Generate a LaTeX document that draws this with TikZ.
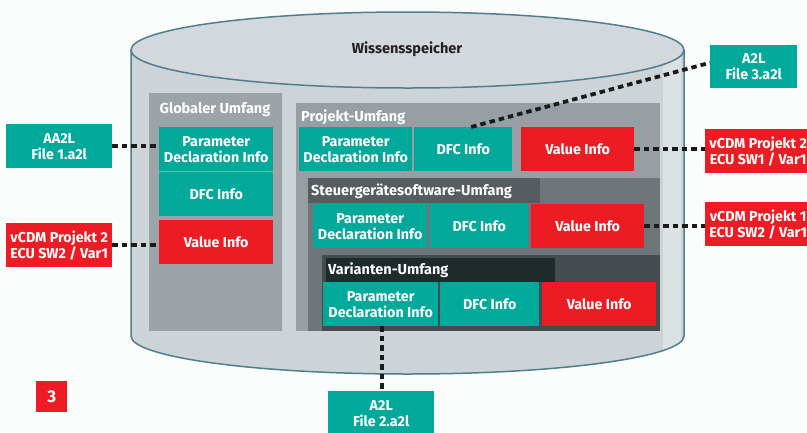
\documentclass[tikz,border=0pt]{standalone}
\usepackage{fontspec}
\setmainfont{Fira Sans}
\definecolor{cTeal}{HTML}{00A99A}
\definecolor{cRed}{HTML}{ED1C24}
\definecolor{cBg}{HTML}{FBFCFC}
\definecolor{cCyl}{HTML}{CDD4D8}
\definecolor{cCylTop}{HTML}{D2D8DB}
\definecolor{cCylLight}{HTML}{DCE1E3}
\definecolor{cCylLine}{HTML}{4F7E90}
\definecolor{cGlob}{HTML}{9DA4A9}
\definecolor{cProj}{HTML}{989FA4}
\definecolor{cSteu}{HTML}{6E767A}
\definecolor{cSteuT}{HTML}{555D61}
\definecolor{cVar}{HTML}{454C50}
\definecolor{cVarT}{HTML}{1F2A2B}
\definecolor{cDark}{HTML}{231F20}
\definecolor{cDot}{HTML}{1A1A1A}
\tikzset{
  box/.style={draw=none, text=white, font=\bfseries\fontsize{14.3}{16}\selectfont,
    align=center, inner sep=0pt, anchor=north west, minimum height=44pt},
  tbox/.style={box, fill=cTeal},
  rbox/.style={box, fill=cRed},
  paneltitle/.style={text=white, font=\bfseries\fontsize{14.5}{16}\selectfont, inner sep=0pt},
  conn/.style={draw=cDot, line width=3.8pt, dash pattern=on 5.5pt off 4pt},
}
\begin{document}
\begin{tikzpicture}[x=1pt, y=-1pt]
\clip (0,0) rectangle (807,432);
\fill[cBg] (0,0) rectangle (807,432);
% cylinder body
\begin{scope}
\clip (131,50) -- (131,336) arc[start angle=180, end angle=0, x radius=276.5, y radius=38] -- (684,50) -- cycle;
\fill[cCyl] (131,50) rectangle (684,380);
\fill[cCylLight] (663,50) rectangle (681,380);
\end{scope}
\draw[cCylLine, line width=1.5pt] (131,50) -- (131,336) arc[start angle=180, end angle=0, x radius=276.5, y radius=38] -- (684,50);
\draw[cCylLine, line width=1.5pt, fill=cCylTop] (407.5,50) ellipse[x radius=276.5, y radius=38];
\node[text=cDark, font=\bfseries\fontsize{14.5}{16}\selectfont, inner sep=0pt] (tw) at (407,49) {Wissensspeicher};
% panels
\fill[cGlob] (149,93) rectangle (282,331);
\fill[cProj] (296,103) rectangle (660,331);
\fill[cSteu] (308,178) rectangle (660,331);
\fill[cSteuT] (308,178) rectangle (540,203);
\fill[cVar] (322,255) rectangle (660,331);
\fill[cVarT] (326,258) rectangle (555,282);
\node[paneltitle] (tglob) at (215,110) {Globaler Umfang};
\node[paneltitle, anchor=west] (tproj) at (301,117) {Projekt-Umfang};
\node[paneltitle, anchor=west] (tsteu) at (311,191) {Steuergerätesoftware-Umfang};
\node[paneltitle, anchor=west] (tvar) at (328,270) {Varianten-Umfang};
% global
\node[tbox, minimum width=114pt] (gpdi) at (159,127) {Parameter\\Declaration Info};
\node[tbox, minimum width=114pt] (gdfc) at (159,172) {DFC Info};
\node[rbox, minimum width=114pt] (gval) at (159,220) {Value Info};
% projekt
\node[tbox, minimum width=113pt] (ppdi) at (299,127) {Parameter\\Declaration Info};
\node[tbox, minimum width=98pt] (pdfc) at (414,127) {DFC Info};
\node[rbox, minimum width=113pt] (pval) at (521,127) {Value Info};
% steuergeraet
\node[tbox, minimum width=114pt] (spdi) at (313,204) {Parameter\\Declaration Info};
\node[tbox, minimum width=98pt] (sdfc) at (430,204) {DFC Info};
\node[rbox, minimum width=113pt] (sval) at (531,204) {Value Info};
% varianten
\node[tbox, minimum width=115pt] (vpdi) at (323,282) {Parameter\\Declaration Info};
\node[tbox, minimum width=99pt] (vdfc) at (440,282) {DFC Info};
\node[rbox, minimum width=114pt] (vval) at (542,282) {Value Info};
% external
\node[tbox, minimum width=106pt] (aa2l) at (6,124) {AA2L\\File 1.a2l};
\node[rbox, minimum width=106pt] (vleft) at (6,223) {vCDM Projekt 2\\ECU SW2 / Var1};
\node[tbox, minimum width=87pt, minimum height=43pt] (a2l3) at (710,45) {A2L\\File 3.a2l};
\node[rbox, minimum width=106pt] (vr1) at (705,129) {vCDM Projekt 2\\ECU SW1 / Var1};
\node[rbox, minimum width=106pt] (vr2) at (705,202) {vCDM Projekt 1\\ECU SW2 / Var1};
\node[tbox, minimum width=106pt, text depth=0pt] (a2l2) at (328,391) {A2L\\File 2.a2l};
\node[rbox, minimum width=31pt, minimum height=31pt, font=\bfseries\fontsize{17}{19}\selectfont] (three) at (36,381) {3};
% connectors
\draw[conn] (aa2l.east) -- (aa2l.east -| gpdi.west);
\draw[conn] (vleft.east) -- (vleft.east -| gval.west);
\draw[conn] (pval.east) -- (pval.east -| vr1.west);
\draw[conn] (sval.east) -- (sval.east -| vr2.west);
\draw[conn] ([xshift=8pt]pdfc.north) -- ([yshift=4pt]a2l3.west);
\draw[conn] ([xshift=1.5pt]vpdi.south) -- ([xshift=1.5pt]vpdi.south |- a2l2.north);
\end{tikzpicture}
\end{document}
